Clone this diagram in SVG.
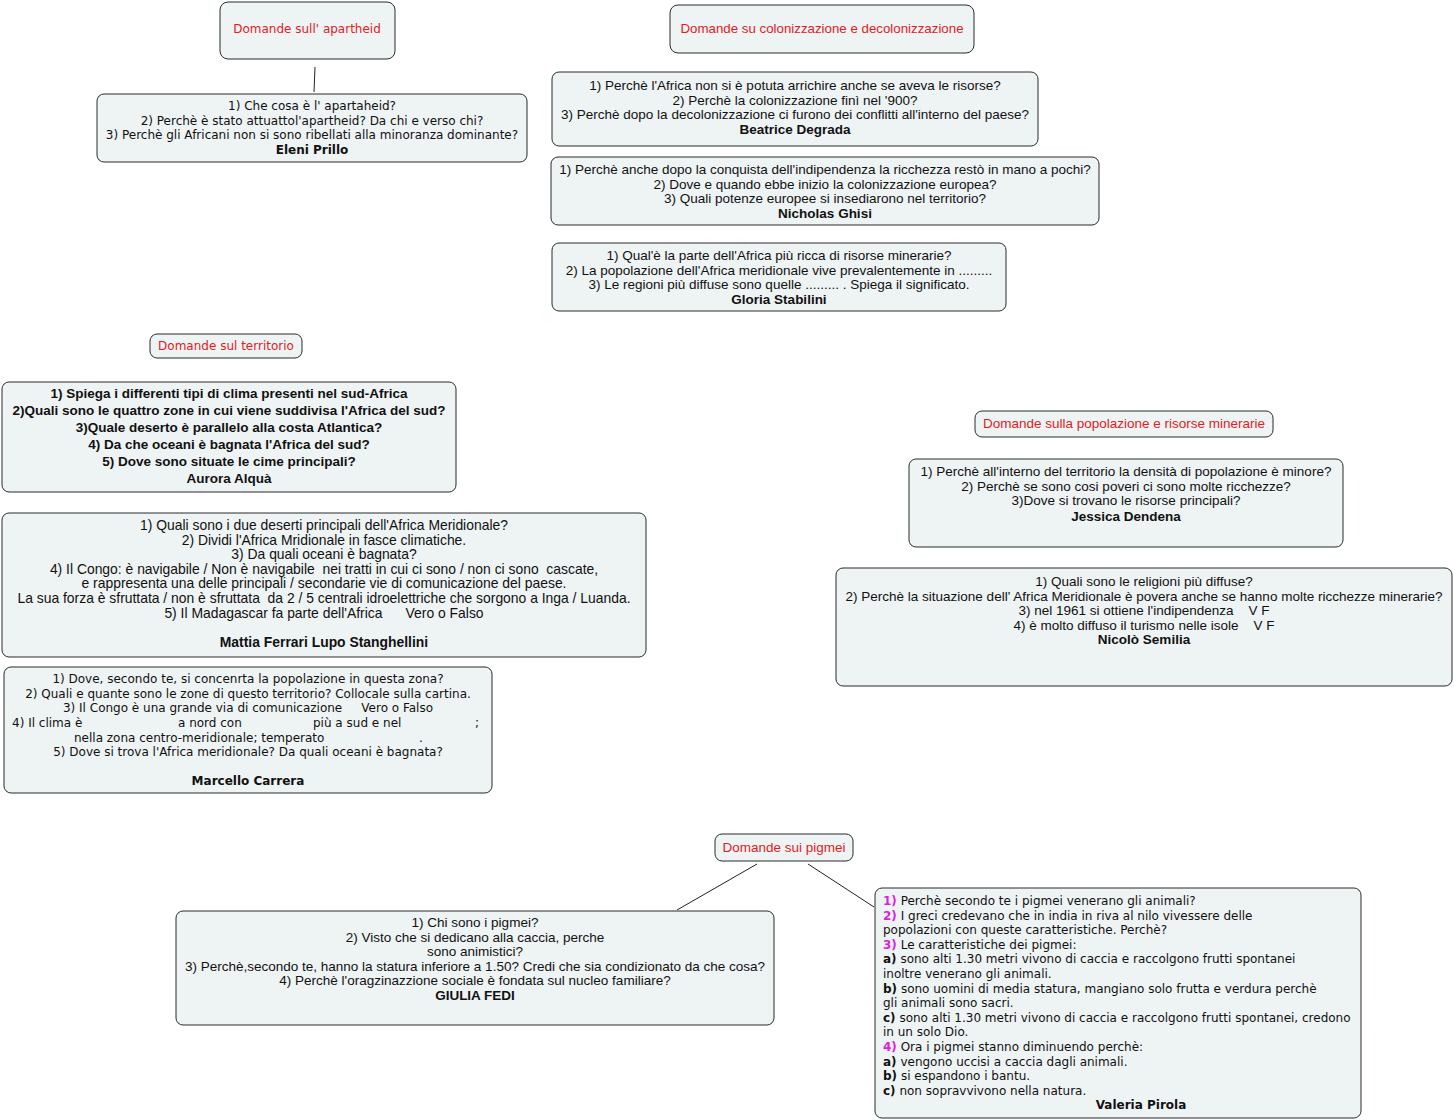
<svg xmlns="http://www.w3.org/2000/svg" width="1454" height="1120" viewBox="0 0 1454 1120">
<style>
.box{fill:#eef3f4;stroke:#2b2b2b;stroke-width:1}
.v{font-family:"DejaVu Sans",Verdana,sans-serif;font-size:12px;fill:#111}
.t{font-family:"Liberation Sans",Arial,sans-serif;font-size:13.5px;fill:#111}
.h{fill:#e3201c}
.b{font-weight:bold}
.m{fill:#dd22dd;font-weight:bold}
.c{text-anchor:middle}
.ln{stroke:#222;stroke-width:1;fill:none}
</style>
<rect width="1454" height="1120" fill="#ffffff"/>
<g id="connectors">
<line class="ln" x1="315" y1="67" x2="314" y2="92"/>
<line class="ln" x1="757" y1="864" x2="677" y2="910"/>
<line class="ln" x1="808" y1="864" x2="874" y2="907"/>
</g>
<g id="h-apartheid">
<rect class="box" x="220" y="2" width="175" height="57" rx="8"/>
<text class="v h c" x="307" y="33">Domande sull' apartheid</text>
</g>
<g id="n-eleni">
<rect class="box" x="97" y="94" width="430" height="68" rx="7"/>
<text class="v c" x="312" y="110">1) Che cosa è l' apartaheid?<tspan x="312" dy="14.6">2) Perchè è stato attuattol'apartheid? Da chi e verso chi?</tspan><tspan x="312" dy="14.6">3) Perchè gli Africani non si sono ribellati alla minoranza dominante?</tspan><tspan x="312" dy="14.6" class="b">Eleni Prillo</tspan></text>
</g>
<g id="h-colonizzazione">
<rect class="box" x="670" y="5" width="304" height="48" rx="8"/>
<text class="t h c" x="822" y="33" style="font-size:13.3px">Domande su colonizzazione e decolonizzazione</text>
</g>
<g id="n-beatrice">
<rect class="box" x="552" y="72" width="486" height="74" rx="7"/>
<text class="t c" x="795" y="90">1) Perchè l'Africa non si è potuta arrichire anche se aveva le risorse?<tspan x="795" dy="14.6">2) Perchè la colonizzazione finì nel '900?</tspan><tspan x="795" dy="14.6">3) Perchè dopo la decolonizzazione ci furono dei conflitti all'interno del paese?</tspan><tspan x="795" dy="14.6" class="b">Beatrice Degrada</tspan></text>
</g>
<g id="n-nicholas">
<rect class="box" x="551" y="157" width="548" height="68" rx="7"/>
<text class="t c" x="825" y="174">1) Perchè anche dopo la conquista dell'indipendenza la ricchezza restò in mano a pochi?<tspan x="825" dy="14.6">2) Dove e quando ebbe inizio la colonizzazione europea?</tspan><tspan x="825" dy="14.6">3) Quali potenze europee si insediarono nel territorio?</tspan><tspan x="825" dy="14.6" class="b">Nicholas Ghisi</tspan></text>
</g>
<g id="n-gloria">
<rect class="box" x="552" y="243" width="454" height="68" rx="7"/>
<text class="t c" x="779" y="260">1) Qual'è la parte dell'Africa più ricca di risorse minerarie?<tspan x="779" dy="14.6">2) La popolazione dell'Africa meridionale vive prevalentemente in .........</tspan><tspan x="779" dy="14.6">3) Le regioni più diffuse sono quelle ......... . Spiega il significato.</tspan><tspan x="779" dy="14.6" class="b">Gloria Stabilini</tspan></text>
</g>
<g id="h-territorio">
<rect class="box" x="150" y="334" width="152" height="24" rx="7"/>
<text class="v h c" x="226" y="350">Domande sul territorio</text>
</g>
<g id="n-aurora">
<rect class="box" x="2" y="382" width="454" height="110" rx="7"/>
<text class="t b c" x="229" y="398">1) Spiega i differenti tipi di clima presenti nel sud-Africa<tspan x="229" dy="17">2)Quali sono le quattro zone in cui viene suddivisa l'Africa del sud?</tspan><tspan x="229" dy="17">3)Quale deserto è parallelo alla costa Atlantica?</tspan><tspan x="229" dy="17">4) Da che oceani è bagnata l'Africa del sud?</tspan><tspan x="229" dy="17">5) Dove sono situate le cime principali?</tspan><tspan x="229" dy="17">Aurora Alquà</tspan></text>
</g>
<g id="n-mattia">
<rect class="box" x="2" y="513" width="644" height="144" rx="7"/>
<text class="t c" x="324" y="530" style="font-size:13.9px" xml:space="preserve">1) Quali sono i due deserti principali dell'Africa Meridionale?<tspan x="324" dy="14.6">2) Dividi l'Africa Mridionale in fasce climatiche.</tspan><tspan x="324" dy="14.6">3) Da quali oceani è bagnata?</tspan><tspan x="324" dy="14.6">4) Il Congo: è navigabile / Non è navigabile  nei tratti in cui ci sono / non ci sono  cascate,</tspan><tspan x="324" dy="14.6">e rappresenta una delle principali / secondarie vie di comunicazione del paese.</tspan><tspan x="324" dy="14.6">La sua forza è sfruttata / non è sfruttata  da 2 / 5 centrali idroelettriche che sorgono a Inga / Luanda.</tspan><tspan x="324" dy="14.6">5) Il Madagascar fa parte dell'Africa      Vero o Falso</tspan><tspan x="324" dy="29.2" class="b">Mattia Ferrari Lupo Stanghellini</tspan></text>
</g>
<g id="n-marcello">
<rect class="box" x="4" y="667" width="488" height="126" rx="7"/>
<text class="v c" x="248" y="683" xml:space="preserve">1) Dove, secondo te, si concenrta la popolazione in questa zona?<tspan x="248" dy="14.6">2) Quali e quante sono le zone di questo territorio? Collocale sulla cartina.</tspan><tspan x="248" dy="14.6">3) Il Congo è una grande via di comunicazione     Vero o Falso</tspan></text>
<text class="v" x="12" y="727">4) Il clima è</text>
<text class="v" x="178" y="727">a nord con</text>
<text class="v" x="313" y="727">più a sud e nel</text>
<text class="v" x="475" y="727">;</text>
<text class="v" x="74" y="742">nella zona centro-meridionale; temperato</text>
<text class="v" x="419" y="742">.</text>
<text class="v c" x="248" y="756">5) Dove si trova l'Africa meridionale? Da quali oceani è bagnata?<tspan x="248" dy="29.2" class="b">Marcello Carrera</tspan></text>
</g>
<g id="h-popolazione">
<rect class="box" x="975" y="411" width="298" height="26" rx="7"/>
<text class="t h c" x="1124" y="428">Domande sulla popolazione e risorse minerarie</text>
</g>
<g id="n-jessica">
<rect class="box" x="909" y="459" width="434" height="88" rx="7"/>
<text class="t c" x="1126" y="476">1) Perchè all'interno del territorio la densità di popolazione è minore?<tspan x="1126" dy="14.6">2) Perchè se sono cosi poveri ci sono molte ricchezze?</tspan><tspan x="1126" dy="14.6">3)Dove si trovano le risorse principali?</tspan><tspan x="1126" dy="15.6" class="b">Jessica Dendena</tspan></text>
</g>
<g id="n-nicolo">
<rect class="box" x="836" y="568" width="616" height="118" rx="7"/>
<text class="t c" x="1144" y="586" xml:space="preserve">1) Quali sono le religioni più diffuse?<tspan x="1144" dy="14.6">2) Perchè la situazione dell' Africa Meridionale è povera anche se hanno molte ricchezze minerarie?</tspan><tspan x="1144" dy="14.6">3) nel 1961 si ottiene l'indipendenza    V F</tspan><tspan x="1144" dy="14.6">4) è molto diffuso il turismo nelle isole    V F</tspan><tspan x="1144" dy="14.6" class="b">Nicolò Semilia</tspan></text>
</g>
<g id="h-pigmei">
<rect class="box" x="715" y="834" width="138" height="27" rx="7"/>
<text class="t h c" x="784" y="852">Domande sui pigmei</text>
</g>
<g id="n-giulia">
<rect class="box" x="176" y="911" width="598" height="114" rx="7"/>
<text class="t c" x="475" y="927">1) Chi sono i pigmei?<tspan x="475" dy="14.6">2) Visto che si dedicano alla caccia, perche</tspan><tspan x="475" dy="14.6">sono animistici?</tspan><tspan x="475" dy="14.6">3) Perchè,secondo te, hanno la statura inferiore a 1.50? Credi che sia condizionato da che cosa?</tspan><tspan x="475" dy="14.6">4) Perchè l'oragzinazzione sociale è fondata sul nucleo familiare?</tspan><tspan x="475" dy="14.6" class="b">GIULIA FEDI</tspan></text>
</g>
<g id="n-valeria">
<rect class="box" x="875" y="888" width="486" height="230" rx="7"/>
<text class="v" x="883" y="905"><tspan class="m">1)</tspan> Perchè secondo te i pigmei venerano gli animali?<tspan x="883" dy="14.6" class="m">2)</tspan> I greci credevano che in india in riva al nilo vivessere delle<tspan x="883" dy="14.6">popolazioni con queste caratteristiche. Perchè?</tspan><tspan x="883" dy="14.6" class="m">3)</tspan> Le caratteristiche dei pigmei:<tspan x="883" dy="14.6" class="b">a)</tspan> sono alti 1.30 metri vivono di caccia e raccolgono frutti spontanei<tspan x="883" dy="14.6">inoltre venerano gli animali.</tspan><tspan x="883" dy="14.6" class="b">b)</tspan> sono uomini di media statura, mangiano solo frutta e verdura perchè<tspan x="883" dy="14.6">gli animali sono sacri.</tspan><tspan x="883" dy="14.6" class="b">c)</tspan> sono alti 1.30 metri vivono di caccia e raccolgono frutti spontanei, credono<tspan x="883" dy="14.6">in un solo Dio.</tspan><tspan x="883" dy="14.6" class="m">4)</tspan> Ora i pigmei stanno diminuendo perchè:<tspan x="883" dy="14.6" class="b">a)</tspan> vengono uccisi a caccia dagli animali.<tspan x="883" dy="14.6" class="b">b)</tspan> si espandono i bantu.<tspan x="883" dy="14.6" class="b">c)</tspan> non sopravvivono nella natura.</text>
<text class="v b c" x="1141" y="1109">Valeria Pirola</text>
</g>
</svg>
